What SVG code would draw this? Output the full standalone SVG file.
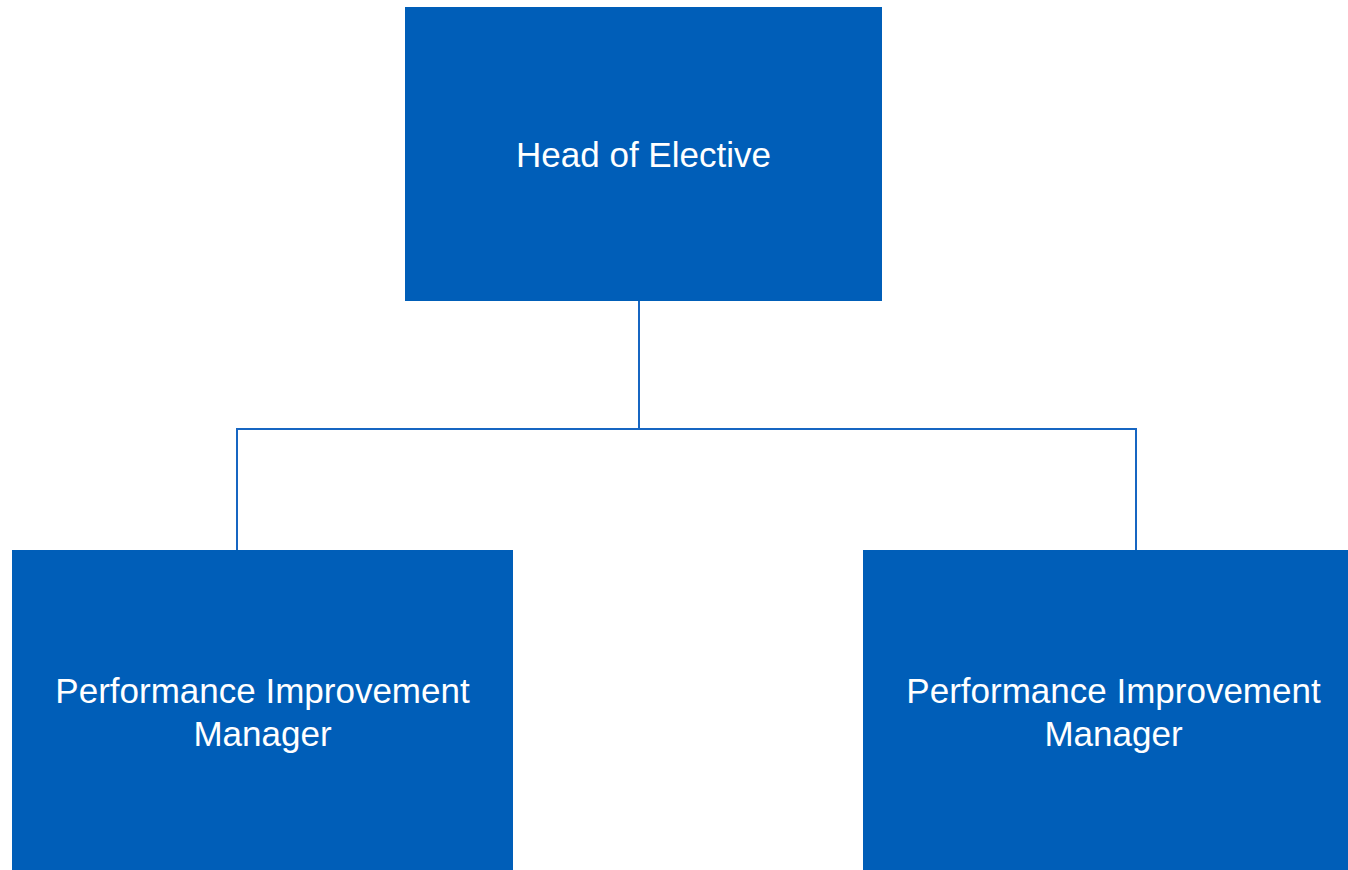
<svg xmlns="http://www.w3.org/2000/svg" width="1348" height="870" viewBox="0 0 1348 870">
<style>
.box{fill:#005EB8}
.lbl{fill:#ffffff;font-family:"Liberation Sans",Arial,sans-serif;font-size:35px;text-anchor:middle}
.conn{stroke:#1766C2;stroke-width:2;fill:none}
</style>
<rect width="1348" height="870" fill="#ffffff"/>
<g id="connectors">
<path class="conn" d="M639,301 V429"/>
<path class="conn" d="M237,550 V429 H1136 V550"/>
</g>
<g id="head">
<rect class="box" x="405" y="7" width="477" height="294"/>
<text class="lbl" x="643.5" y="167">Head of Elective</text>
</g>
<g id="pim-left">
<rect class="box" x="12" y="550" width="501" height="320"/>
<text class="lbl" x="262.5" y="703">Performance Improvement</text>
<text class="lbl" x="262.5" y="746">Manager</text>
</g>
<g id="pim-right">
<rect class="box" x="863" y="550" width="485" height="320"/>
<text class="lbl" x="1113.5" y="703">Performance Improvement</text>
<text class="lbl" x="1113.5" y="746">Manager</text>
</g>
</svg>
